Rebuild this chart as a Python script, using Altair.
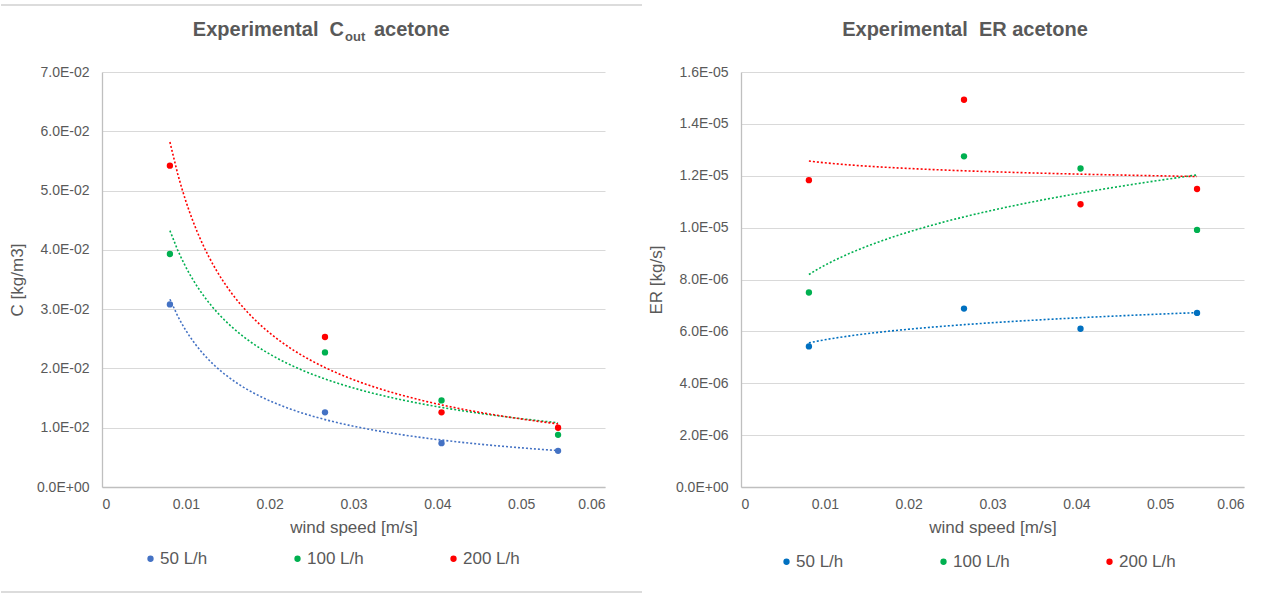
import altair as alt
import pandas as pd

# ---- data ----
wind_speed = [0.0081, 0.0266, 0.0405, 0.0544]
flow_rates = ["50 L/h", "100 L/h", "200 L/h"]

c_50 = [0.0308, 0.0126, 0.0074, 0.0061]
c_100 = [0.0393, 0.0227, 0.0146, 0.0088]
c_200 = [0.0542, 0.0253, 0.0126, 0.0100]

er_50 = [5.42e-06, 6.88e-06, 6.10e-06, 6.71e-06]
er_100 = [7.50e-06, 1.275e-05, 1.228e-05, 9.91e-06]
er_200 = [1.183e-05, 1.493e-05, 1.090e-05, 1.149e-05]

x_ticks = [0, 0.01, 0.02, 0.03, 0.04, 0.05, 0.06]
c_ticks = [0, 0.01, 0.02, 0.03, 0.04, 0.05, 0.06, 0.07]
er_ticks = [0, 2e-06, 4e-06, 6e-06, 8e-06, 1e-05, 1.2e-05, 1.4e-05, 1.6e-05]

left_colors = ["#4472C4", "#00B050", "#FF0000"]
right_colors = ["#0070C0", "#00B050", "#FF0000"]

TEXT = "#595959"
FONT = "Liberation Sans"
SCI = "replace(replace(format(datum.value, '.1e'), 'e-', 'E-0'), 'e+', 'E+0')"


def long_table(series_values):
    rows = []
    for name, vals in zip(flow_rates, series_values):
        for x, y in zip(wind_speed, vals):
            rows.append({"wind": x, "value": y, "series": name})
    return pd.DataFrame(rows)


def text_piece(text, x, y, size, align):
    return alt.Chart(pd.DataFrame({"t": [text]})).mark_text(
        align=align, baseline="alphabetic", font=FONT, fontSize=size,
        fontWeight="bold", color=TEXT
    ).encode(x=alt.value(x), y=alt.value(y), text="t:N")


def frame_line(x1, x2, y, color, opacity):
    return alt.Chart(pd.DataFrame({"k": [0]})).mark_rule(
        color=color, strokeWidth=1.5, opacity=opacity
    ).encode(x=alt.value(x1), x2=alt.value(x2), y=alt.value(y))


def panel(df, colors, y_title, y_ticks, y_max, legend_x, legend_y, col_pad, extra_layers):
    x_enc = alt.X(
        "wind:Q",
        scale=alt.Scale(domain=[0, 0.06], nice=False),
        axis=alt.Axis(values=x_ticks, format="~g", title="wind speed [m/s]",
                      grid=False, ticks=False, domainColor="#BFBFBF",
                      labelPadding=10, titlePadding=8),
    )
    y_enc = alt.Y(
        "value:Q",
        scale=alt.Scale(domain=[0, y_max], nice=False),
        axis=alt.Axis(values=y_ticks, labelExpr=SCI, title=y_title,
                      grid=True, ticks=False, domainColor="#BFBFBF",
                      labelPadding=13, titlePadding=10),
    )
    base = alt.Chart(df)
    trend = base.transform_regression(
        "wind", "value", method="pow", groupby=["series"]
    ).transform_calculate(curve="datum.series").mark_line(
        strokeDash=[2, 2], strokeWidth=1.6
    ).encode(
        x=x_enc, y=y_enc,
        stroke=alt.Stroke("curve:N", sort=flow_rates,
                          scale=alt.Scale(range=colors), legend=None),
    )
    points = base.mark_circle(size=40, opacity=1).encode(
        x=x_enc, y=y_enc,
        color=alt.Color(
            "series:N", scale=alt.Scale(domain=flow_rates, range=colors),
            legend=alt.Legend(
                title=None, orient="none", direction="horizontal",
                legendX=legend_x, legendY=legend_y, columnPadding=col_pad,
                symbolType="circle", symbolSize=40, labelOffset=1,
                labelFontSize=17, labelColor=TEXT, labelFont=FONT,
            ),
        ),
    )
    return alt.layer(trend, points, *extra_layers).properties(width=503, height=415)


left = panel(
    long_table([c_50, c_100, c_200]), left_colors, "C [kg/m3]", c_ticks, 0.07,
    40, 478, 81,
    [
        text_piece("Experimental\u00a0 C", 242, -36, 20, "right"),
        text_piece("out", 243, -31, 13, "left"),
        text_piece("acetone", 272, -36, 20, "left"),
        frame_line(-101, 540, -67, "#D0D0D0", 1),
        frame_line(-101, 540, 520, "#D0D0D0", 1),
    ],
)

right = panel(
    long_table([er_50, er_100, er_200]), right_colors, "ER [kg/s]", er_ticks, 1.6e-05,
    37, 481, 91,
    [
        text_piece("Experimental\u00a0 ER acetone", 224, -36, 20, "center"),
        frame_line(0, 503, -67, "#FFFFFF", 0),
        frame_line(0, 503, 520, "#FFFFFF", 0),
    ],
)

chart = alt.hconcat(left, right, spacing=4).resolve_scale(
    color="independent", stroke="independent"
).resolve_legend(color="independent", stroke="independent").properties(
    padding={"left": 0, "top": 4, "right": 5, "bottom": 0},
    background="white",
).configure_axis(
    labelFont=FONT, titleFont=FONT, labelColor=TEXT, titleColor=TEXT,
    labelFontSize=14, titleFontSize=17, titleFontWeight="normal",
    gridColor="#D9D9D9", domainWidth=1.3,
).configure_view(stroke=None)

chart.save("out.html", embed_options={"renderer": "svg", "actions": False})
